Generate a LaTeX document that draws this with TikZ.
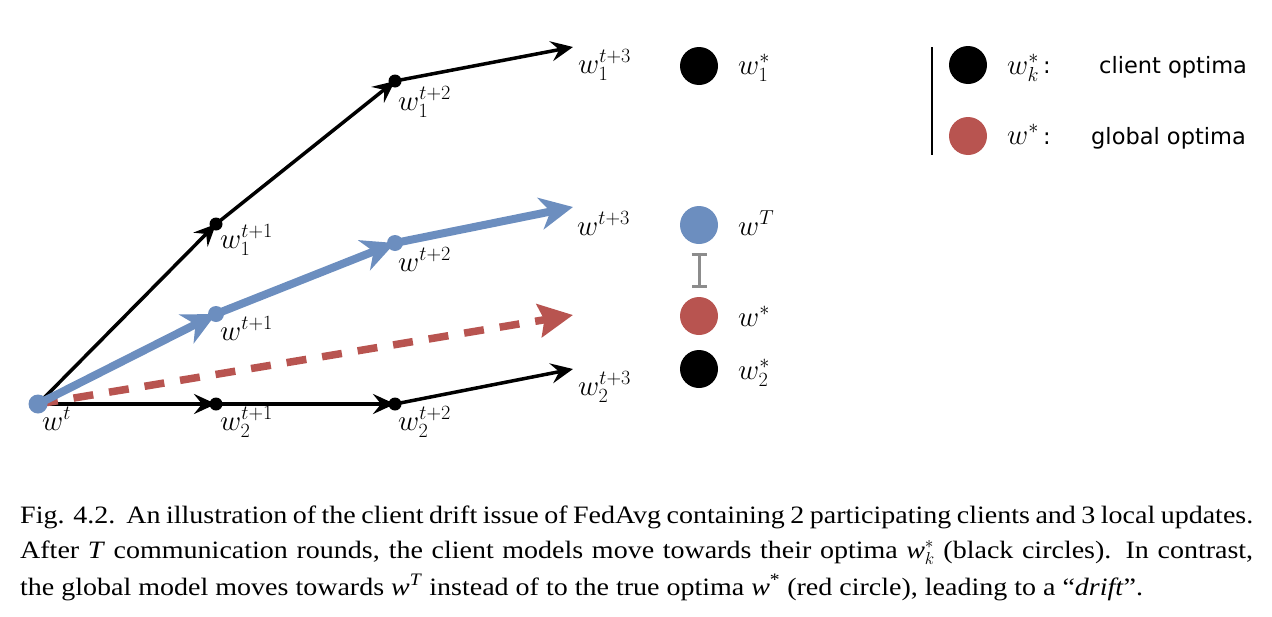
\documentclass[tikz,border=0pt]{standalone}
\usepackage[no-math]{fontspec}
\setmainfont{Liberation Serif}
\newfontfamily\legendfont{DejaVu Sans}
\newfontfamily\capfont[FakeStretch=1.12]{Liberation Serif}
\DeclareMathSizes{24.88}{24.88}{17.28}{12}
\usetikzlibrary{arrows.meta}
\definecolor{bl}{HTML}{6C8EBF}
\definecolor{rd}{HTML}{B85450}
\definecolor{gr}{HTML}{8C8C8C}
\newcommand{\cw}[1]{\textit{#1}}
\tikzset{
  lab/.style={font=\fontsize{24.88}{30}\selectfont, scale=1.17, inner sep=0pt, anchor=base west},
  leg/.style={font=\legendfont\fontsize{22.5}{26}\selectfont, inner sep=0pt, anchor=base west},
  captxt/.style={font=\capfont\fontsize{25}{28}\selectfont, inner sep=0pt, anchor=base west},
  blk/.style={line width=3.5pt, black, -{Stealth[length=22pt,width=20pt,inset=8pt]}},
  blu/.style={line width=8pt, bl, -{Stealth[length=33pt,width=32pt,inset=10pt]}},
  rdd/.style={line width=7.5pt, rd, dash pattern=on 20pt off 16pt, -{Stealth[length=34pt,width=33pt,inset=5pt]}},
  bdot/.style={circle, fill=black, inner sep=0pt, minimum size=13pt},
  udot/.style={circle, fill=bl, inner sep=0pt, minimum size=16pt},
  bigdot/.style={circle, inner sep=0pt, minimum size=38pt},
}
\begin{document}
\begin{tikzpicture}[x=1pt, y=-1pt]
\useasboundingbox (0,0) rectangle (1272,616);
% points
\coordinate (w0) at (38,404);
\coordinate (a1) at (216,224);
\coordinate (a2) at (395,81);
\coordinate (a3) at (573,47);
\coordinate (g1) at (216,314);
\coordinate (g2) at (395,243);
\coordinate (g3) at (573,207);
\coordinate (b1) at (216,404);
\coordinate (b2) at (395,404);
\coordinate (b3) at (573,369);
\coordinate (r3) at (573,315);
% client 1
\draw[blk] (w0) -- (a1);
\draw[blk] (a1) -- (a2);
\draw[blk] (a2) -- (a3);
% client 2
\draw[blk] (w0) -- (b1);
\draw[blk] (b1) -- (b2);
\draw[blk] (b2) -- (b3);
% drift
\draw[rdd] (w0) -- (r3);
% global
\draw[blu] (w0) -- (g1);
\draw[blu] (g1) -- (g2);
\draw[blu] (g2) -- (g3);
% dots
\node[udot, minimum size=19pt] (d0) at (w0) {};
\node[bdot] (da1) at (a1) {};
\node[bdot] (da2) at (a2) {};
\node[bdot] (db1) at (b1) {};
\node[bdot] (db2) at (b2) {};
\node[udot] (dg1) at (g1) {};
\node[udot] (dg2) at (g2) {};
% labels
\node[lab] (lw0) at (42,430) {$w^t$};
\node[lab] (la1) at (220,248) {$w_1^{t+1}$};
\node[lab] (la2) at (398,110) {$w_1^{t+2}$};
\node[lab] (la3) at (578,73) {$w_1^{t+3}$};
\node[lab] (lg1) at (220,340) {$w^{t+1}$};
\node[lab] (lg2) at (398,271) {$w^{t+2}$};
\node[lab] (lg3) at (577,235) {$w^{t+3}$};
\node[lab] (lb1) at (220,430) {$w_2^{t+1}$};
\node[lab] (lb2) at (398,430) {$w_2^{t+2}$};
\node[lab] (lb3) at (578,395) {$w_2^{t+3}$};
% optima column
\node[bigdot, fill=black] (o1) at (699,66) {};
\node[bigdot, fill=bl] (oT) at (699,225) {};
\node[bigdot, fill=rd] (os) at (699,316) {};
\node[bigdot, fill=black] (o2) at (699,369) {};
\node[lab] (lo1) at (738,74) {$w_1^*$};
\node[lab] (loT) at (738,235) {$w^T$};
\node[lab] (los) at (738,326) {$w^*$};
\node[lab] (lo2) at (738,379) {$w_2^*$};
\coordinate (iT) at (699,253);
\coordinate (iS) at (699,288);
\draw[gr, line width=3pt, {Bar[width=15pt]}-{Bar[width=15pt]}] (iT) -- (iS);
% legend
\coordinate (v1) at (932,47);
\coordinate (v2) at (932,155);
\draw[line width=2pt] (v1) -- (v2);
\node[bigdot, fill=black] (k1) at (968,65) {};
\node[bigdot, fill=rd] (k2) at (968,136) {};
\node[lab] (lk1) at (1007,74) {$w_k^*$};
\node[leg] (ck1) at (1043,73) {:};
\node[leg] (tk1) at (1099,73) {client optima};
\node[lab] (lk2) at (1007,144) {$w^*$};
\node[leg] (ck2) at (1043,144) {:};
\node[leg] (tk2) at (1091,144) {global optima};
% caption
\node[captxt] (c1) at (20,523) {\makebox[1233pt][s]{Fig. 4.2.\ \ An illustration of the client drift issue of FedAvg containing 2 participating clients and 3 local updates.}};
\node[captxt] (c2) at (20,558) {\makebox[1233pt][s]{After \cw{T} communication rounds, the client models move towards their optima \cw{w}$^{*}_{k}$ (black circles). In contrast,}};
\node[captxt] (c3) at (20,595) {the global model moves towards \cw{w}\textsuperscript{\cw{T}} instead of to the true optima \cw{w}\textsuperscript{*} (red circle), leading to a “\textit{drift}”.};
\end{tikzpicture}
\end{document}
